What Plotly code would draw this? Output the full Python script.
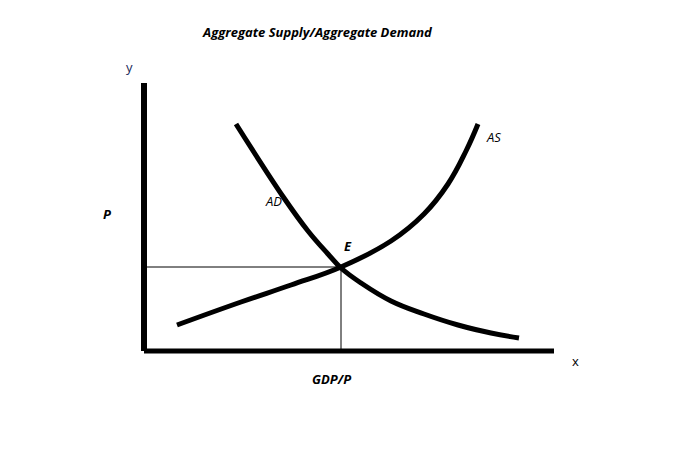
import plotly.graph_objects as go

# Curves (x = quantity, y = price)
ad_x = [92, 140, 164, 184, 197, 217, 247, 280, 314, 347, 375]
ad_y = [227, 153, 120, 97, 83, 68, 50, 37, 26, 18, 13]
as_x = [33, 97, 147, 197, 247, 280, 304, 322, 334]
as_y = [26, 49, 66, 84, 110, 137, 167, 200, 227]

# Equilibrium
eq_x = 197
eq_y = 84

# Axis extents
x_axis_end = 410
y_axis_end = 268

fig = go.Figure()

# Axes drawn as thick lines
fig.add_trace(go.Scatter(x=[0, 0], y=[0, y_axis_end], mode="lines",
                         line=dict(color="black", width=6), hoverinfo="skip"))
fig.add_trace(go.Scatter(x=[0, x_axis_end], y=[0, 0], mode="lines",
                         line=dict(color="black", width=5), hoverinfo="skip"))

# Guide lines to equilibrium
fig.add_trace(go.Scatter(x=[3, eq_x], y=[eq_y, eq_y], mode="lines",
                         line=dict(color="black", width=1), hoverinfo="skip"))
fig.add_trace(go.Scatter(x=[eq_x, eq_x], y=[0, eq_y], mode="lines",
                         line=dict(color="black", width=1), hoverinfo="skip"))

# AD and AS curves
fig.add_trace(go.Scatter(x=ad_x, y=ad_y, mode="lines", line_shape="spline",
                         line=dict(color="black", width=5, smoothing=1.2)))
fig.add_trace(go.Scatter(x=as_x, y=as_y, mode="lines", line_shape="spline",
                         line=dict(color="black", width=5, smoothing=1.2)))

font_family = "Open Sans"
ann = [
    dict(x=173, y=319, text="<b><i>Aggregate Supply/Aggregate Demand</i></b>", size=13),
    dict(x=-15, y=284, text="y", size=13, color="#1a2a5a"),
    dict(x=431, y=-10, text="x", size=13),
    dict(x=-37, y=137, text="<b><i>P</i></b>", size=13),
    dict(x=187, y=-28, text="<b><i>GDP/P</i></b>", size=13),
    dict(x=129, y=150, text="<i>AD</i>", size=13),
    dict(x=349, y=214, text="<i>AS</i>", size=13),
    dict(x=204, y=105, text="<b><i>E</i></b>", size=13),
]
for a in ann:
    fig.add_annotation(x=a["x"], y=a["y"], text=a["text"], showarrow=False,
                       xref="x", yref="y",
                       font=dict(family=font_family, size=a["size"],
                                 color=a.get("color", "#000000")))

fig.update_layout(
    width=695, height=460,
    margin=dict(l=0, r=0, t=0, b=0),
    paper_bgcolor="white", plot_bgcolor="white",
    showlegend=False,
    xaxis=dict(range=[-136, 559], visible=False, fixedrange=True),
    yaxis=dict(range=[-117, 343], visible=False, fixedrange=True),
)

fig.write_html("out.html")
